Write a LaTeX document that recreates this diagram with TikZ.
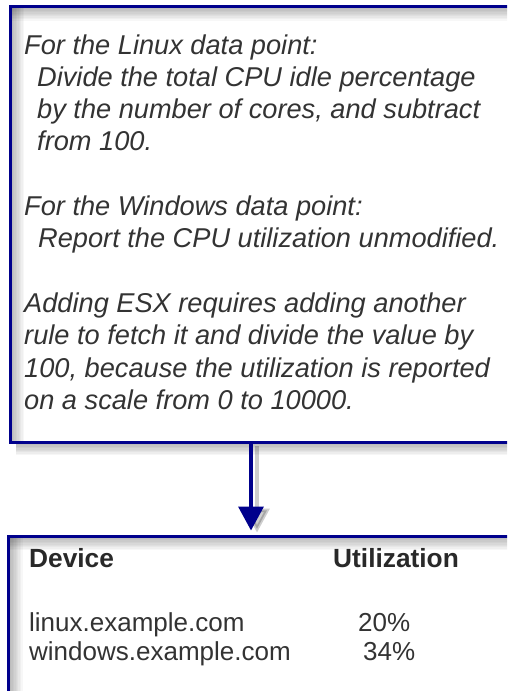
\documentclass[tikz,border=0pt]{standalone}
\usepackage{fontspec}
\setmainfont{Liberation Sans}
\usetikzlibrary{arrows.meta}
\definecolor{navy}{RGB}{0,0,140}
\definecolor{txtgray}{RGB}{51,51,51}
\tikzset{
  boxframe/.style={draw=navy, line width=3pt, fill=white, rectangle, inner sep=0pt},
  itline/.style={anchor=base west, inner sep=0pt, text=txtgray, font=\fontsize{27.2}{32}\selectfont\itshape},
  tabline/.style={anchor=base west, inner sep=0pt, text=txtgray, font=\fontsize{26}{30}\selectfont},
  tabhead/.style={anchor=base west, inner sep=0pt, text=txtgray!80!black, font=\fontsize{26.3}{30}\selectfont\bfseries},
  flowarrow/.style={draw=navy, line width=3.5pt, -{Triangle[width=25pt,length=24pt]}},
}
\begin{document}
\begin{tikzpicture}[x=1pt,y=-1pt]
\useasboundingbox (0,0) rectangle (507,691);
\clip (0,0) rectangle (507,691);
\fill[white] (0,0) rectangle (507,691);
% drop shadow of top box
\foreach \i in {1,...,8} \fill[black, opacity=0.035] (16,444) rectangle (540,444+\i*1.4);
% boxes
\node[boxframe, minimum width=530pt, minimum height=436pt] (top) at (275,224.5) {};
\node[boxframe, minimum width=531.5pt, minimum height=184pt] (bot) at (274.25,628) {};
% inner shadows
\foreach \i in {1,...,9} {
  \fill[black, opacity=0.032] (11.5,8) rectangle (540,8+\i*1.4);
  \fill[black, opacity=0.032] (11.5,8) rectangle (11.5+\i*1.4,441);
  \fill[black, opacity=0.032] (10,537.5) rectangle (540,537.5+\i*1.4);
  \fill[black, opacity=0.032] (10,537.5) rectangle (10+\i*1.4,700);
}
% arrow
\coordinate (ax) at (251,0);
\coordinate (axs) at (257,0);
\foreach \o in {0.12,0.08} \draw[draw=black, opacity=\o, line width=3.5pt, -{Triangle[width=25pt,length=24pt]}] ([yshift=-2pt]top.south -| axs) -- ([yshift=2pt]bot.north -| axs);
\draw[flowarrow] (top.south -| ax) -- ([yshift=4pt]bot.north -| ax);
% top text
\node[itline] (t1) at (24,54) {For the Linux data point:};
\node[itline] (t2) at (37,86.3) {Divide the total CPU idle percentage};
\node[itline] (t3) at (37,118.6) {by the number of cores, and subtract};
\node[itline] (t4) at (37,150.9) {from 100.};
\node[itline] (t5) at (24,215.5) {For the Windows data point:};
\node[itline] (t6) at (38,247.8) {Report the CPU utilization unmodified.};
\node[itline] (t7) at (24,312.4) {Adding ESX requires adding another};
\node[itline] (t8) at (24,344.7) {rule to fetch it and divide the value by};
\node[itline] (t9) at (24,377) {100, because the utilization is reported};
\node[itline] (t10) at (24,409.3) {on a scale from 0 to 10000.};
% table
\node[tabhead] (h1) at (29,567) {Device};
\node[tabhead] (h2) at (333,567) {Utilization};
\node[tabline] (r1) at (29,631) {linux.example.com};
\node[tabline] (v1) at (358,631) {20\%};
\node[tabline] (r2) at (29,660) {windows.example.com};
\node[tabline] (v2) at (363,660) {34\%};
\end{tikzpicture}
\end{document}
